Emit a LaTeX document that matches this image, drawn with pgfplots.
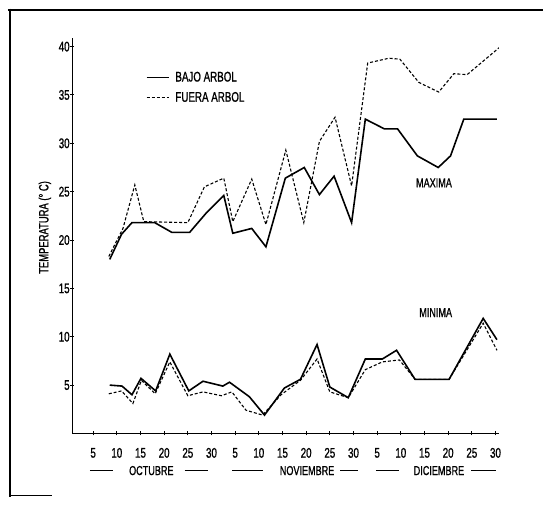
\documentclass[border=0pt]{standalone}
\usepackage{pgfplots}
\pgfplotsset{compat=1.18}
\usepackage{fontspec}
\setmainfont{Liberation Sans}[FakeStretch=0.7,FakeBold=1]
\begin{document}
\begin{tikzpicture}[x=1pt,y=1pt]
\path (0,0) rectangle (544,506);
% frame
\draw[line width=2.6pt] (8,496) -- (544,496);
\draw[line width=2.6pt] (10,497.3) -- (10,8);
\draw[line width=1.2pt] (10,9) -- (52,9);
\begin{axis}[
  at={(72.5pt,71.5pt)}, anchor=south west,
  scale only axis, width=427.5pt, height=396.5pt,
  xmin=0.6, xmax=90.7, ymin=0, ymax=40.9,
  axis x line=bottom, axis y line=left,
  axis line style={line width=1.3pt,-},
  xtick={5,10,...,90},
  xticklabels={5,10,15,20,25,30,5,10,15,20,25,30,5,10,15,20,25,30},
  ytick={5,10,...,40},
  tick align=center, major tick length=4pt,
  tick style={line width=1pt,black},
  /pgf/number format/assume math mode=true,
  tick label style={font=\fontsize{14}{16}\selectfont},
  xticklabel style={anchor=center, inner sep=0pt, yshift=-17.5pt},
  yticklabel style={anchor=east, inner sep=0pt, xshift=-0.5pt},
  legend style={at={(rel axis cs:0.165,0.925)}, anchor=north west, draw=none, fill=none,
    font=\fontsize{14}{16}\selectfont, row sep=5pt},
  legend cell align=left,
  legend image code/.code={\draw[#1] (0pt,0pt) -- (22pt,0pt); \path (26pt,0pt);},
]
\addplot[black, line width=1.6pt] coordinates {
(8.5,18.0) (11.0,20.6) (13.2,21.8) (18.0,21.8) (21.6,20.8) (25.4,20.8) (28.9,22.8) (32.6,24.6) (34.5,20.7) (38.5,21.2) (41.5,19.3) (45.6,26.4) (49.6,27.5) (52.8,24.7) (55.9,26.6) (59.6,21.8) (62.5,32.5) (66.5,31.5) (69.3,31.5) (73.5,28.7) (77.9,27.5) (80.5,28.7) (83.3,32.5) (90.3,32.5)
};
\addlegendentry{BAJO ARBOL}
\addplot[black, line width=1.1pt, dash pattern=on 3pt off 2pt] coordinates {
(8.3,18.3) (11.3,21.2) (13.8,25.7) (15.7,21.9) (25.0,21.8) (28.5,25.5) (32.6,26.4) (34.5,21.9) (38.5,26.3) (41.5,21.6) (45.7,29.3) (49.5,21.8) (52.8,30.2) (56.1,32.7) (59.6,25.6) (63.0,38.3) (67.5,38.8) (69.8,38.7) (73.8,36.3) (78.0,35.3) (81.2,37.2) (84.0,37.1) (90.8,39.9)
};
\addlegendentry{FUERA ARBOL}
\addplot[black, line width=1.6pt, forget plot] coordinates {
(8.5,5.0) (11.1,4.9) (13.2,4.0) (15.1,5.7) (18.2,4.4) (21.2,8.2) (25.2,4.4) (28.2,5.4) (32.4,4.9) (33.8,5.3) (38.0,3.8) (41.2,1.9) (45.4,4.7) (48.8,5.6) (52.3,9.2) (55.0,4.8) (58.9,3.7) (62.5,7.7) (66.1,7.7) (69.1,8.6) (73.0,5.6) (80.2,5.6) (87.4,11.9) (90.3,9.7)
};
\addplot[black, line width=1.1pt, dash pattern=on 3pt off 2pt, forget plot] coordinates {
(8.3,4.1) (11.0,4.4) (13.4,3.1) (15.2,5.5) (18.1,4.1) (21.2,7.4) (25.0,3.9) (28.2,4.3) (32.1,3.9) (34.3,4.3) (37.3,2.4) (40.8,1.9) (44.7,4.0) (48.8,5.5) (52.3,7.7) (55.0,4.3) (58.9,3.7) (62.5,6.6) (66.1,7.4) (69.7,7.6) (73.0,5.6) (80.2,5.6) (87.4,11.4) (90.3,8.6)
};
\end{axis}
% annotations
\node[font=\fontsize{13}{15}\selectfont] at (435,322.7) {MAXIMA};
\node[font=\fontsize{13}{15}\selectfont] at (436.7,192.7) {MINIMA};
\node[font=\fontsize{13.5}{15}\selectfont, rotate=90] at (45,278) {TEMPERATURA (° C)};
\begin{scope}[line width=1pt]
\draw (90,34.3) -- (113.3,34.3);
\node[font=\fontsize{13}{15}\selectfont] at (151.7,34.3) {OCTUBRE};
\draw (185,34.3) -- (208.3,34.3);
\draw (232.7,34.3) -- (263.3,34.3);
\node[font=\fontsize{13}{15}\selectfont] at (307.8,34.3) {NOVIEMBRE};
\draw (341,34.3) -- (359,34.3);
\draw (376.7,34.3) -- (400,34.3);
\node[font=\fontsize{13}{15}\selectfont] at (440,34.3) {DICIEMBRE};
\draw (472.3,34.3) -- (496.7,34.3);
\end{scope}
\end{tikzpicture}
\end{document}
